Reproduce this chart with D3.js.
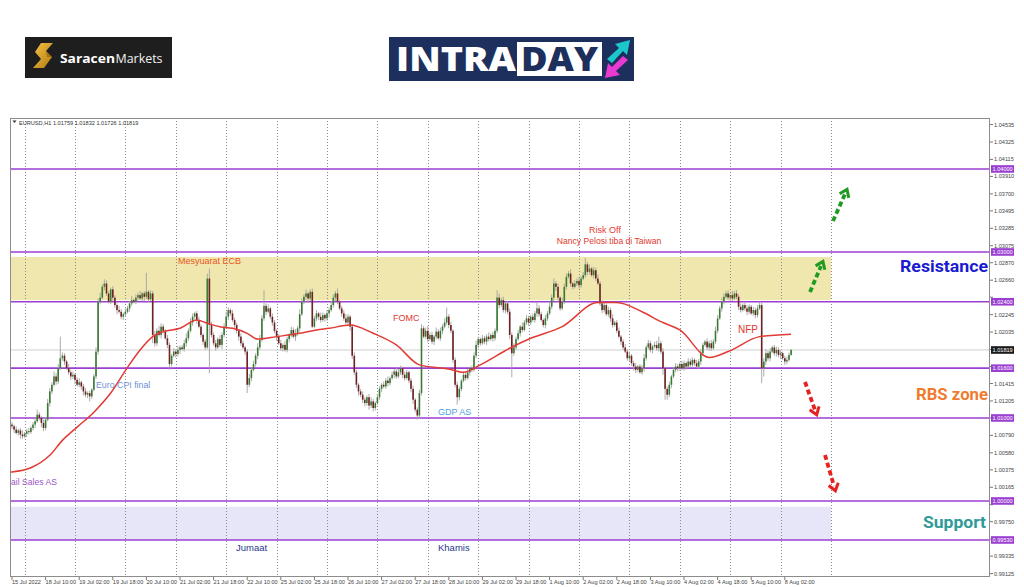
<!DOCTYPE html>
<html><head><meta charset="utf-8">
<script src="https://cdn.jsdelivr.net/npm/d3@7"></script>
<style>html,body{margin:0;padding:0;background:#fff;} svg{display:block;}</style>
</head><body>
<svg id="c" width="1024" height="587"></svg>
<script>
// ---------- DATA ----------
// EURUSD H1 closes, one per hourly bar (bar 0 = 15 Jul 18:00)
const closes = [
1.0090,1.0086,1.0082,1.0085,1.0080,1.0078,1.0081,1.0084,1.0083,1.0088,1.0092,1.0096,1.0104,1.0100,1.0094,1.0088,1.0098,1.0118,1.0132,1.0140,1.0150,1.0144,1.0160,1.0172,
1.0175,1.0168,1.0160,1.0155,1.0150,1.0152,1.0146,1.0140,1.0143,1.0138,1.0132,1.0128,1.0130,1.0126,1.0134,1.0150,1.0180,1.0240,1.0245,1.0258,1.0262,1.0250,1.0240,1.0255,
1.0245,1.0236,1.0230,1.0228,1.0222,1.0225,1.0228,1.0232,1.0238,1.0242,1.0240,1.0245,1.0248,1.0244,1.0250,1.0246,1.0252,1.0243,1.0250,1.0200,1.0190,1.0205,1.0200,1.0210,
1.0205,1.0196,1.0188,1.0165,1.0175,1.0180,1.0177,1.0182,1.0185,1.0183,1.0190,1.0196,1.0205,1.0215,1.0222,1.0226,1.0218,1.0210,1.0200,1.0192,1.0185,1.0268,1.0212,1.0200,
1.0190,1.0185,1.0195,1.0188,1.0200,1.0210,1.0222,1.0230,1.0226,1.0218,1.0212,1.0205,1.0198,1.0190,1.0185,1.0180,1.0140,1.0148,1.0158,1.0165,1.0175,1.0185,1.0194,1.0220,
1.0235,1.0228,1.0232,1.0222,1.0215,1.0205,1.0198,1.0190,1.0184,1.0188,1.0182,1.0195,1.0200,1.0206,1.0198,1.0202,1.0208,1.0225,1.0240,1.0246,1.0250,1.0244,1.0252,1.0210,
1.0220,1.0226,1.0222,1.0218,1.0224,1.0220,1.0226,1.0230,1.0236,1.0245,1.0250,1.0240,1.0232,1.0226,1.0220,1.0215,1.0222,1.0210,1.0175,1.0155,1.0140,1.0132,1.0128,1.0122,
1.0118,1.0125,1.0115,1.0120,1.0112,1.0118,1.0125,1.0135,1.0140,1.0138,1.0145,1.0142,1.0148,1.0152,1.0156,1.0150,1.0155,1.0160,1.0152,1.0148,1.0155,1.0145,1.0135,1.0122,
1.0110,1.0103,1.0130,1.0208,1.0198,1.0205,1.0195,1.0200,1.0192,1.0198,1.0204,1.0196,1.0205,1.0210,1.0215,1.0222,1.0212,1.0205,1.0170,1.0140,1.0125,1.0135,1.0145,1.0152,
1.0148,1.0155,1.0160,1.0158,1.0175,1.0188,1.0195,1.0190,1.0196,1.0192,1.0198,1.0195,1.0200,1.0196,1.0205,1.0245,1.0236,1.0242,1.0230,1.0238,1.0228,1.0200,1.0178,1.0185,
1.0195,1.0202,1.0210,1.0206,1.0215,1.0220,1.0215,1.0222,1.0218,1.0226,1.0232,1.0225,1.0218,1.0212,1.0220,1.0226,1.0234,1.0245,1.0262,1.0258,1.0245,1.0232,1.0240,1.0258,
1.0270,1.0274,1.0262,1.0258,1.0262,1.0265,1.0260,1.0268,1.0272,1.0285,1.0276,1.0280,1.0272,1.0278,1.0268,1.0262,1.0238,1.0230,1.0236,1.0225,1.0230,1.0220,1.0212,1.0215,
1.0205,1.0198,1.0192,1.0185,1.0180,1.0172,1.0175,1.0166,1.0162,1.0158,1.0162,1.0155,1.0160,1.0172,1.0185,1.0190,1.0182,1.0186,1.0188,1.0184,1.0190,1.0180,1.0160,1.0135,
1.0128,1.0140,1.0150,1.0158,1.0162,1.0160,1.0165,1.0160,1.0166,1.0162,1.0168,1.0164,1.0170,1.0166,1.0162,1.0168,1.0178,1.0188,1.0192,1.0185,1.0190,1.0184,1.0192,1.0205,
1.0220,1.0232,1.0240,1.0246,1.0250,1.0245,1.0248,1.0244,1.0250,1.0246,1.0234,1.0230,1.0236,1.0232,1.0228,1.0234,1.0226,1.0230,1.0224,1.0232,1.0236,1.0160,1.0168,1.0178,
1.0172,1.0180,1.0185,1.0178,1.0182,1.0176,1.0178,1.0172,1.0168,1.0170,1.01759,1.01819
];
const firstOpen = 1.0092;
// upper / lower shadow length of each bar, in pips
const wickUp = [
3,2,4,2,3,5,2,3,4,2,3,4,6,3,2,4,3,5,4,3,6,4,5,26,
4,3,2,5,3,4,2,3,5,2,3,4,2,3,2,3,5,4,6,3,5,4,3,2,
4,3,2,5,3,2,4,3,3,5,2,4,3,5,2,3,23,2,4,3,5,3,6,4,
3,2,4,3,2,4,3,5,2,3,4,6,3,5,4,2,3,4,3,2,3,6,12,4,
3,4,2,5,3,4,6,3,2,4,3,3,2,4,3,2,3,5,3,4,3,5,6,4,
19,3,5,2,4,3,2,3,4,2,5,3,2,4,3,5,3,6,4,3,5,2,3,4,
3,4,2,5,3,2,4,3,5,4,3,6,2,3,4,5,3,2,3,4,3,2,3,4,
3,2,4,5,3,2,4,3,2,4,3,5,2,4,3,5,4,3,2,4,3,2,3,4,
2,3,4,5,3,4,6,3,4,2,5,3,4,3,5,11,3,4,2,3,4,3,2,4,
3,4,2,3,4,5,3,2,4,3,3,5,2,4,3,9,5,3,4,2,3,4,3,5,
3,4,2,5,3,4,3,2,4,3,7,4,3,2,4,3,5,4,6,3,4,2,5,4,
4,3,5,2,4,3,5,3,4,8,3,5,2,4,3,5,3,4,3,2,4,3,5,2,
3,4,2,3,4,3,5,2,3,4,2,3,4,5,3,4,3,2,4,5,8,3,4,2,
3,4,2,3,4,3,2,4,3,2,4,3,3,2,4,3,5,3,2,4,3,4,3,5,
4,3,5,4,3,4,2,5,3,4,3,4,2,3,4,3,2,4,3,4,3,3,4,5,
3,4,2,3,4,3,4,2,3,4,3,1
];
const wickDn = [
3,4,2,3,5,3,2,4,3,2,3,4,2,3,5,4,3,2,4,3,2,4,3,2,
3,4,2,3,4,3,5,2,3,4,5,3,4,6,3,2,3,4,3,2,4,3,2,3,
4,3,5,2,3,4,3,2,4,3,2,3,4,2,3,5,3,3,2,10,4,3,2,4,
3,2,4,7,3,2,4,3,5,2,3,4,3,2,4,3,5,2,3,4,3,2,58,3,
3,4,2,3,5,3,2,4,3,2,4,3,5,3,2,4,10,3,4,2,3,4,3,2,
3,4,2,3,4,3,5,2,3,4,2,3,4,3,2,5,3,4,2,3,4,5,3,2,
2,3,4,3,2,4,3,5,2,3,4,3,2,4,3,2,3,5,4,3,4,5,3,4,
4,3,5,3,4,3,2,3,4,2,3,4,3,2,4,3,2,3,4,3,2,3,4,5,
3,5,4,3,2,3,4,2,3,4,3,2,3,4,2,3,4,3,4,3,9,4,3,2,
3,2,4,3,2,3,4,3,2,3,4,3,2,4,3,3,4,2,3,4,3,5,29,3,
3,2,4,3,2,3,4,3,2,3,4,3,2,3,4,3,2,3,4,5,6,3,2,3,
3,2,4,3,2,3,4,3,2,3,4,3,2,4,3,2,3,4,3,2,3,4,3,2,
3,2,4,3,2,3,4,3,5,4,3,2,3,4,3,2,3,4,2,3,4,3,8,13,
6,3,4,2,3,4,3,2,3,4,2,3,4,3,2,3,4,3,2,3,4,3,2,3,
3,2,4,3,2,3,4,3,2,3,4,3,2,3,4,3,2,3,4,3,2,18,10,4,
3,4,2,3,4,3,5,2,4,3,2,1
];
// moving average (red line), read at these bars
const maBars = [0,9,18,24,31,39,47,55,61,67,72,80,88,93,99,105,112,117,126,137,145,151,161,172,183,194,208,215,223,237,247,262,279,288,300,309,318,332,341,356,371];
const maValues = [1.0035,1.0040,1.0055,1.0073,1.0089,1.0107,1.0130,1.0161,1.0182,1.0198,1.0204,1.0208,1.0218,1.0214,1.0210,1.0208,1.0202,1.0195,1.0198,1.0202,1.0206,1.0208,1.0212,1.0202,1.0188,1.0164,1.0159,1.0155,1.0164,1.0184,1.0196,1.0210,1.0239,1.0239,1.0228,1.0216,1.0206,1.0173,1.0180,1.0198,1.0201];
const levels = [1.04000,1.03000,1.02400,1.01600,1.01000,1.00000,0.99530];
const levelLabels = ["1.04000","1.03000","1.02400","1.01600","1.01000","1.00000","0.99530"];
const resistanceZone = [1.0242,1.0294];
const supportZone = [0.9953,0.9993];
const currentPrice = 1.01819;
const priceTicks = [1.04535,1.04325,1.04115,1.03910,1.03700,1.03495,1.03285,1.03075,1.02870,1.02660,1.02455,1.02245,1.02035,1.01825,1.01620,1.01415,1.01205,1.01000,1.00790,1.00580,1.00375,1.00165,0.99955,0.99750,0.99540,0.99335,0.99125];
const timeLabels = ["15 Jul 2022","18 Jul 10:00","19 Jul 02:00","19 Jul 18:00","20 Jul 10:00","21 Jul 02:00","21 Jul 18:00","22 Jul 10:00","25 Jul 02:00","25 Jul 18:00","26 Jul 10:00","27 Jul 02:00","27 Jul 18:00","28 Jul 10:00","29 Jul 02:00","29 Jul 18:00","1 Aug 10:00","2 Aug 02:00","2 Aug 18:00","3 Aug 10:00","4 Aug 02:00","4 Aug 18:00","5 Aug 10:00","8 Aug 02:00"];
const dayStartBars = [6,30,54,78,102,126,150,174,198,222,246,270,294,318,342,366,390];
const header = "EURUSD,H1  1.01759 1.01832 1.01726 1.01819";

// ---------- DRAW ----------
const svg = d3.select("#c");
const P = {l:10, r:990, t:118, b:577};
const x = d3.scaleLinear().domain([0,390]).range([12,831]);
const y = d3.scaleLinear().domain([0.99084,1.04602]).range([577,119]);
const PURPLE = "#9b3fd1";

svg.append("rect").attr("width",1024).attr("height",587).attr("fill","#fff");
const defs = svg.append("defs");
defs.append("clipPath").attr("id","plotclip").append("rect")
  .attr("x",P.l).attr("y",P.t).attr("width",P.r-P.l).attr("height",P.b-P.t);
const gold = defs.append("linearGradient").attr("id","gold").attr("x1",0).attr("y1",0).attr("x2",1).attr("y2",1);
gold.append("stop").attr("offset","0%").attr("stop-color","#f6c445");
gold.append("stop").attr("offset","100%").attr("stop-color","#b07a12");

// logo 1
const lg = svg.append("g");
lg.append("rect").attr("x",25).attr("y",37).attr("width",147).attr("height",41).attr("fill","#1e1e1e");
lg.append("path").attr("d","M41,43 L53,43 L46,51 L52,57 L44,68 L33,68 L41,59 L35,52 Z").attr("fill","url(#gold)");
lg.append("path").attr("d","M46,51 L52,57 L47,57 Z").attr("fill","#8a5a0a").attr("opacity",0.6);
lg.append("text").attr("x",60).attr("y",62.5).attr("fill","#fff").attr("font-family","Open Sans, Liberation Sans, sans-serif")
  .attr("font-weight","bold").attr("font-size",12.5).attr("textLength",55).attr("lengthAdjust","spacingAndGlyphs").text("Saracen");
lg.append("text").attr("x",115.5).attr("y",62.5).attr("fill","#f2f2f2").attr("font-family","Open Sans, Liberation Sans, sans-serif")
  .attr("font-size",12.5).attr("textLength",47).attr("lengthAdjust","spacingAndGlyphs").text("Markets");

// logo 2
const l2 = svg.append("g");
l2.append("rect").attr("x",389).attr("y",37).attr("width",245).attr("height",44).attr("fill","#1c2f5d");
l2.append("rect").attr("x",517).attr("y",42).attr("width",85).attr("height",34).attr("fill","#fff");
l2.append("text").attr("x",396).attr("y",71).attr("fill","#fff").attr("font-family","Open Sans, Liberation Sans, Arial, sans-serif")
  .attr("font-weight","800").attr("font-size",33).attr("textLength",120).attr("lengthAdjust","spacingAndGlyphs").text("INTRA");
l2.append("text").attr("x",521).attr("y",71).attr("fill","#1c2f5d").attr("font-family","Open Sans, Liberation Sans, Arial, sans-serif")
  .attr("font-weight","800").attr("font-size",33).attr("textLength",77).attr("lengthAdjust","spacingAndGlyphs").text("DAY");
l2.append("path").attr("d","M607,59 L619,48 L615,44 L630,40 L627,55 L623,51 L612,63 Z").attr("fill","#1cc7cc");
l2.append("path").attr("d","M628,60 L616,71 L620,75 L605,78 L608,63 L612,67 L623,56 Z").attr("fill","#e83ad0");

// plot
const pg = svg.append("g").attr("clip-path","url(#plotclip)");
pg.append("rect").attr("x",P.l).attr("y",y(resistanceZone[1])).attr("width",x(390)-P.l)
  .attr("height",y(resistanceZone[0])-y(resistanceZone[1])).attr("fill","#efe7ad");
pg.append("rect").attr("x",P.l).attr("y",y(supportZone[1])).attr("width",x(390)-P.l)
  .attr("height",y(supportZone[0])-y(supportZone[1])).attr("fill","#e6e6f8");

pg.selectAll("line.grid").data(dayStartBars).enter().append("line")
  .attr("x1",d=>Math.round(x(d))+0.5).attr("x2",d=>Math.round(x(d))+0.5).attr("y1",P.t).attr("y2",P.b)
  .attr("stroke","#8a8a8a").attr("stroke-width",1).attr("stroke-dasharray","1,2");

pg.append("line").attr("x1",P.l).attr("x2",P.r).attr("y1",y(currentPrice)).attr("y2",y(currentPrice))
  .attr("stroke","#cfcfcf").attr("stroke-width",1);

pg.selectAll("line.lvl").data(levels).enter().append("line")
  .attr("x1",P.l).attr("x2",P.r).attr("y1",d=>y(d)).attr("y2",d=>y(d))
  .attr("stroke",PURPLE).attr("stroke-width",1.6);

// candles
const bars = closes.map((c,i)=>{
  const o = i===0 ? firstOpen : closes[i-1];
  return {i,o,c,h:Math.max(o,c)+wickUp[i]/10000,l:Math.min(o,c)-wickDn[i]/10000};
});
pg.selectAll("line.wick").data(bars).enter().append("line")
  .attr("x1",d=>x(d.i)).attr("x2",d=>x(d.i)).attr("y1",d=>y(d.h)).attr("y2",d=>y(d.l))
  .attr("stroke","#a3a3a3").attr("stroke-width",0.9);
pg.selectAll("rect.body").data(bars).enter().append("rect")
  .attr("x",d=>x(d.i)-0.8).attr("width",1.6)
  .attr("y",d=>y(Math.max(d.o,d.c)))
  .attr("height",d=>Math.max(0.8,Math.abs(y(d.o)-y(d.c))))
  .attr("fill",d=>d.c>=d.o?"#3b7a34":"#6e2222");

// MA
const maPts = maBars.map((b,k)=>[b,maValues[k]]);
pg.append("path").datum(maPts)
  .attr("d",d3.line().x(d=>x(d[0])).y(d=>y(d[1])).curve(d3.curveMonotoneX))
  .attr("fill","none").attr("stroke","#e23a34").attr("stroke-width",1.5);
pg.append("line").attr("x1",P.l).attr("x2",x(0)).attr("y1",y(maValues[0])).attr("y2",y(maValues[0]))
  .attr("stroke","#e23a34").attr("stroke-width",1.5);

// annotations
const F = "Liberation Sans, Arial, sans-serif";
function note(t,xx,yy,col,size,anchor){
  return pg.append("text").attr("x",xx).attr("y",yy).attr("fill",col).attr("font-family",F)
    .attr("font-size",size).attr("text-anchor",anchor||"start").text(t);
}
note("Mesyuarat ECB",178,264,"#e8561f",9);
note("Risk Off",605,233,"#e2382e",9,"middle");
note("Nancy Pelosi tiba di Taiwan",609,244,"#e2382e",8.6,"middle");
note("FOMC",393,321,"#e2382e",9);
note("NFP",738,333,"#e2382e",10);
note("Euro CPI final",96,388,"#6f8fd8",8.8);
note("GDP AS",438,415,"#4e9fe6",9);
note("ail Sales AS",11,485,"#9d55c8",8.6);
note("Jumaat",236,551,"#2a3890",9.5);
note("Khamis",438,551,"#2a3890",9.5);

function big(t,xx,yy,col,w){
  svg.append("text").attr("x",xx).attr("y",yy).attr("fill",col).attr("font-family","Roboto, Liberation Sans, sans-serif")
    .attr("font-weight","bold").attr("font-size",16).attr("textLength",w).attr("lengthAdjust","spacingAndGlyphs").text(t);
}
big("Resistance",900,272,"#1a1ad0",88);
big("RBS zone",916,400,"#f07b2e",72);
big("Support",923,528,"#2f9a98",63);

// arrows
function arrow(x1,y1,x2,y2,col){
  svg.append("line").attr("x1",x1).attr("y1",y1).attr("x2",x2).attr("y2",y2)
    .attr("stroke",col).attr("stroke-width",3.8).attr("stroke-dasharray","5,3");
  const dx=x2-x1, dy=y2-y1, L=Math.hypot(dx,dy), ux=dx/L, uy=dy/L, nx=-uy, ny=ux;
  const tx=x2+ux*5, ty=y2+uy*5;
  svg.append("polyline").attr("points",[[tx-ux*7+nx*5,ty-uy*7+ny*5],[tx,ty],[tx-ux*7-nx*5,ty-uy*7-ny*5]].map(p=>p.join(",")).join(" "))
    .attr("fill","none").attr("stroke",col).attr("stroke-width",3);
}
arrow(810,292,821,266,"#1f9a23");
arrow(833,221,845,194,"#1f9a23");
arrow(805,382,815,410,"#e52222");
arrow(825,455,834,486,"#e52222");

// frame
svg.append("rect").attr("x",P.l+0.5).attr("y",P.t+0.5).attr("width",P.r-P.l-1).attr("height",P.b-P.t-1)
  .attr("fill","none").attr("stroke","#8c8c8c").attr("stroke-width",1);

// header
svg.append("path").attr("d","M12.5,120.5 L16.5,120.5 L14.5,123 Z").attr("fill","#333");
svg.append("text").attr("x",19).attr("y",124.5).attr("font-family",F).attr("font-size",5.6).attr("fill","#333").text(header);

// right axis
const ax = svg.append("g").attr("font-family",F).attr("font-size",5.6);
const marked = levels.concat([currentPrice]);
const shownTicks = priceTicks.filter(v=>marked.every(m=>Math.abs(y(v)-y(m))>=5.5));
ax.selectAll("line.pt").data(priceTicks).enter().append("line")
  .attr("x1",P.r).attr("x2",P.r+3).attr("y1",d=>y(d)).attr("y2",d=>y(d)).attr("stroke","#777");
ax.selectAll("text.pt").data(shownTicks).enter().append("text")
  .attr("x",P.r+4).attr("y",d=>y(d)+2).attr("fill","#444").text(d=>d.toFixed(5));
levels.forEach((v,k)=>{
  ax.append("rect").attr("x",P.r+1).attr("y",y(v)-3.8).attr("width",23).attr("height",7.6).attr("fill",PURPLE);
  ax.append("text").attr("x",P.r+2.5).attr("y",y(v)+2).attr("fill","#fff").text(levelLabels[k]);
});
ax.append("rect").attr("x",P.r+1).attr("y",y(currentPrice)-3.8).attr("width",23).attr("height",7.6).attr("fill","#1a1a1a");
ax.append("text").attr("x",P.r+2.5).attr("y",y(currentPrice)+2).attr("fill","#fff").text(currentPrice.toFixed(5));

// time axis
const tx = svg.append("g").attr("font-family",F).attr("font-size",5.6);
tx.selectAll("line").data(timeLabels).enter().append("line")
  .attr("x1",(d,k)=>x(16*k)).attr("x2",(d,k)=>x(16*k)).attr("y1",P.b).attr("y2",P.b+3).attr("stroke","#777");
tx.selectAll("text").data(timeLabels).enter().append("text")
  .attr("x",(d,k)=>x(16*k)).attr("y",583.5).attr("fill","#444").text(d=>d);
</script>
</body></html>
